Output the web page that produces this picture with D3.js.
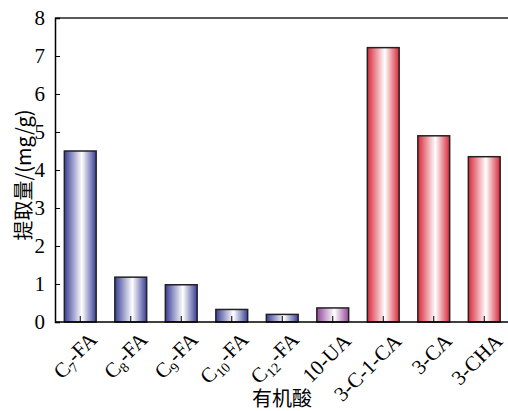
<!DOCTYPE html>
<html>
<head>
<meta charset="utf-8">
<script src="https://cdn.jsdelivr.net/npm/d3@7"></script>
<style>
  body { margin: 0; background: #fff; }
</style>
</head>
<body>
<svg id="chart"></svg>
<script>
// categories: [base, subscript, rest]
var acids = [
  ["C", "7", "-FA"], ["C", "8", "-FA"], ["C", "9", "-FA"], ["C", "10", "-FA"], ["C", "12", "-FA"],
  ["10-UA", "", ""], ["3-C-1-CA", "", ""], ["3-CA", "", ""], ["3-CHA", "", ""]
];
var amounts = [4.5, 1.18, 0.98, 0.33, 0.2, 0.37, 7.22, 4.9, 4.35];
var groups = ["blue", "blue", "blue", "blue", "blue", "purple", "red", "red", "red"];
var yTicks = [0, 1, 2, 3, 4, 5, 6, 7, 8];

var width = 508, height = 411;
var margin = {top: 18, right: 0, bottom: 89, left: 55};

var svg = d3.select("#chart").attr("width", width).attr("height", height);

var xScale = d3.scaleBand().domain(d3.range(acids.length))
  .range([margin.left, margin.left + 50.5 * acids.length]).paddingInner(0.37).paddingOuter(0.185);
var yScale = d3.scaleLinear().domain([0, 8]).range([height - margin.bottom, margin.top]);

// gradients
var edge = {blue: "#3a3f96", purple: "#95469a", red: "#d8283a"};
var defs = svg.append("defs");
Object.keys(edge).forEach(function(k) {
  var g = defs.append("linearGradient").attr("id", "g-" + k)
    .attr("x1", 0).attr("x2", 1).attr("y1", 0).attr("y2", 0);
  g.append("stop").attr("offset", "0%").attr("stop-color", edge[k]);
  g.append("stop").attr("offset", "55%").attr("stop-color", "#ffffff");
  g.append("stop").attr("offset", "100%").attr("stop-color", edge[k]);
});

// bars
svg.selectAll(".bar").data(amounts).enter().append("rect")
  .attr("x", function(d, i) { return xScale(i); })
  .attr("y", function(d) { return yScale(d); })
  .attr("width", xScale.bandwidth())
  .attr("height", function(d) { return yScale(0) - yScale(d); })
  .attr("fill", function(d, i) { return "url(#g-" + groups[i] + ")"; })
  .attr("stroke", "#222").attr("stroke-width", 1.5);

// top frame line runs to the right edge
svg.append("line").attr("x1", margin.left).attr("x2", width)
  .attr("y1", margin.top).attr("y2", margin.top).attr("stroke", "#222").attr("stroke-width", 1.5);

var yAxis = svg.append("g")
  .attr("transform", "translate(" + margin.left + ",0)")
  .call(d3.axisLeft(yScale).tickValues(yTicks).tickSize(-5).tickPadding(10).tickFormat(d3.format("d")));
yAxis.selectAll("text").attr("fill", "#000").style("font-size", "21px").style("font-family", "'Liberation Serif', serif");
yAxis.select(".domain").attr("stroke-width", 1.5);

var xAxis = svg.append("g")
  .attr("transform", "translate(0," + yScale(0) + ")")
  .call(d3.axisBottom(xScale).tickSize(-6).tickFormat(""));
xAxis.select(".domain").attr("d", "M" + margin.left + ",0H" + width).attr("stroke-width", 1.5);

// rotated x labels with subscripts
var labels = svg.append("g").attr("class", "xlabels").selectAll("text").data(acids).enter().append("text")
  .attr("transform", function(d, i) {
    var cx = xScale(i) + xScale.bandwidth() / 2 + 9;
    return "translate(" + cx + "," + (yScale(0) + 10) + ") rotate(-45)";
  })
  .attr("text-anchor", "end").attr("dy", "0.7em")
  .attr("fill", "#000")
  .style("font-family", "'Liberation Serif', serif")
  .style("font-size", "21px");
labels.each(function(a) {
  var t = d3.select(this);
  if (a[1]) {
    t.append("tspan").text(a[0]);
    t.append("tspan").attr("dy", "0.3em").style("font-size", "14px").text(a[1]);
    t.append("tspan").attr("dy", "-0.3em").text(a[2]);
  } else {
    t.text(a[0]);
  }
});

// axis titles
svg.append("text")
  .attr("transform", "translate(24,175) rotate(-90)")
  .attr("text-anchor", "middle").attr("dy", "0.35em")
  .attr("fill", "#000")
  .style("font-size", "20px").style("font-family", "'Noto Sans CJK SC', sans-serif")
  .text("提取量/(mg/g)");
svg.append("text")
  .attr("x", 282).attr("y", 406)
  .attr("text-anchor", "middle")
  .attr("fill", "#000")
  .style("font-size", "20px").style("font-family", "'Noto Sans CJK SC', sans-serif")
  .text("有机酸");
</script>
</body>
</html>
